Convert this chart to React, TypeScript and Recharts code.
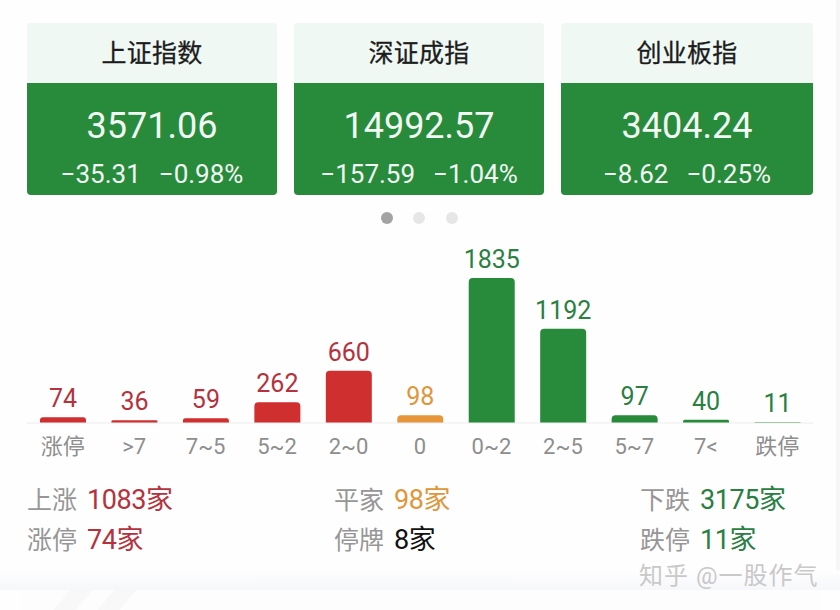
import { Bar, BarChart, Cell, LabelList, XAxis, YAxis } from "recharts";

const FONT = 'Roboto, "Noto Sans CJK SC", sans-serif';

const indexNames = ["上证指数", "深证成指", "创业板指"];
const indexValues = ["3571.06", "14992.57", "3404.24"];
const indexChanges = ["−35.31", "−157.59", "−8.62"];
const indexPercents = ["−0.98%", "−1.04%", "−0.25%"];
const cardLefts = [27, 294, 561];
const cardWidths = [250, 250, 252];

const buckets = ["涨停", ">7", "7~5", "5~2", "2~0", "0", "0~2", "2~5", "5~7", "7<", "跌停"];
const counts = [74, 36, 59, 262, 660, 98, 1835, 1192, 97, 40, 11];

const RED = "#cf2f2f";
const ORANGE = "#e8963c";
const GREEN = "#288b3c";
const RED_TEXT = "#b5323c";
const ORANGE_TEXT = "#e0963a";
const GREEN_TEXT = "#2a7f42";

const barColours = [RED, RED, RED, RED, RED, ORANGE, GREEN, GREEN, GREEN, GREEN, GREEN];
const textColours = [
  RED_TEXT, RED_TEXT, RED_TEXT, RED_TEXT, RED_TEXT, ORANGE_TEXT,
  GREEN_TEXT, GREEN_TEXT, GREEN_TEXT, GREEN_TEXT, GREEN_TEXT,
];

const summaryLabels = [["上涨", "涨停"], ["平家", "停牌"], ["下跌", "跌停"]];
const summaryValues = [["1083家", "74家"], ["98家", "8家"], ["3175家", "11家"]];
const summaryColours = [[RED_TEXT, RED_TEXT], [ORANGE_TEXT, "#111111"], [GREEN_TEXT, GREEN_TEXT]];
const summaryLefts = [27, 334, 640];
const summaryTops = [481, 521];

const chartData = buckets.map((bucket, i) => ({ bucket, count: counts[i] }));

function CountLabel(props: any) {
  const { x, y, width, value, index } = props;
  return (
    <text
      x={x + width / 2}
      y={y - 10}
      textAnchor="middle"
      fontSize={25}
      fontFamily={FONT}
      fill={textColours[index]}
    >
      {value}
    </text>
  );
}

function IndexCard({ i }: { i: number }) {
  return (
    <div
      style={{
        position: "absolute",
        left: cardLefts[i],
        top: 23,
        width: cardWidths[i],
        height: 172,
        borderRadius: 4,
        overflow: "hidden",
        textAlign: "center",
        fontFamily: FONT,
      }}
    >
      <div
        style={{
          height: 60,
          lineHeight: "62px",
          background: "#eff8f3",
          color: "#1c1c1c",
          fontSize: 25,
          fontWeight: 400,
          letterSpacing: 0.3,
          WebkitTextStroke: "0.3px #1c1c1c",
        }}
      >
        {indexNames[i]}
      </div>
      <div style={{ height: 112, background: GREEN, color: "#f2f8f3" }}>
        <div style={{ fontSize: 36, lineHeight: "44px", paddingTop: 21 }}>{indexValues[i]}</div>
        <div style={{ fontSize: 26, lineHeight: "30px", marginTop: 11, whiteSpace: "pre" }}>
          <span style={{ marginRight: 18 }}>{indexChanges[i]}</span>
          {indexPercents[i]}
        </div>
      </div>
    </div>
  );
}

export default function App() {
  return (
    <div
      style={{
        position: "absolute",
        left: 0,
        top: 0,
        width: 840,
        height: 610,
        overflow: "hidden",
        background: "#fefefe",
        fontFamily: FONT,
      }}
    >
      {indexNames.map((_, i) => (
        <IndexCard key={i} i={i} />
      ))}

      {/* pager dots */}
      {[387, 419, 452].map((cx, i) => (
        <div
          key={cx}
          style={{
            position: "absolute",
            left: cx - 6,
            top: 212,
            width: 12,
            height: 12,
            borderRadius: 6,
            background: i === 0 ? "#a3a3a3" : "#e6e6e6",
          }}
        />
      ))}

      <div style={{ position: "absolute", left: -1, top: 240 }}>
        <BarChart
          width={840}
          height={230}
          data={chartData}
          margin={{ top: 0, right: 26, bottom: 0, left: 28 }}
          barSize={46}
        >
          <XAxis
            dataKey="bucket"
            interval={0}
            height={47}
            tickLine={false}
            axisLine={{ stroke: "#ececec" }}
            tickMargin={9}
            tick={{ fill: "#8e8e8e", fontSize: 22, fontFamily: FONT }}
          />
          <YAxis hide domain={[0, 2316]} />
          <Bar dataKey="count" radius={[4, 4, 0, 0]} isAnimationActive={false}>
            {chartData.map((_, i) => (
              <Cell key={i} fill={barColours[i]} />
            ))}
            <LabelList dataKey="count" content={CountLabel} />
          </Bar>
        </BarChart>
      </div>

      {summaryLabels.map((col, c) =>
        col.map((label, r) => (
          <div
            key={label}
            style={{
              position: "absolute",
              left: summaryLefts[c],
              top: summaryTops[r],
              height: 38,
              lineHeight: "38px",
              fontSize: 25,
              whiteSpace: "nowrap",
            }}
          >
            <span style={{ color: "#969696", marginRight: 10 }}>{label}</span>
            <span style={{ color: summaryColours[c][r], fontSize: 27, letterSpacing: -0.4 }}>
              {summaryValues[c][r]}
            </span>
          </div>
        ))
      )}

      {/* next card peeking in at the bottom */}
      <div
        style={{
          position: "absolute",
          left: 0,
          top: 570,
          width: 840,
          height: 20,
          background: "linear-gradient(#fefefe, #f6f7fa)",
        }}
      />
      <div
        style={{
          position: "absolute",
          left: 22,
          top: 590,
          width: 798,
          height: 20,
          background: "#fdfdfd",
        }}
      />
      {[62, 106].map((left) => (
        <div
          key={left}
          style={{
            position: "absolute",
            left,
            top: 590,
            width: 22,
            height: 20,
            background: "#f8f8f8",
            transform: "skewX(-40deg)",
          }}
        />
      ))}
      <div style={{ position: "absolute", left: 836, top: 0, width: 4, height: 570, background: "#f6f6f6" }} />

      <div
        style={{
          position: "absolute",
          left: 639,
          top: 560,
          height: 32,
          lineHeight: "32px",
          fontSize: 24,
          letterSpacing: 1,
          color: "#c9c9c9",
          whiteSpace: "nowrap",
        }}
      >
        知乎 @一股作气
      </div>
    </div>
  );
}
